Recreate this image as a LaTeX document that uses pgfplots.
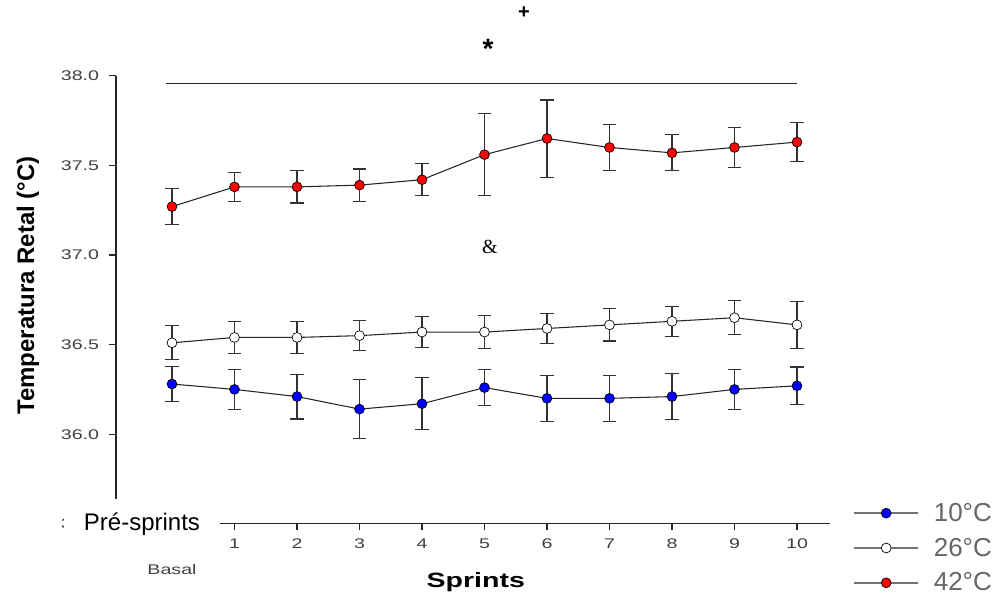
\documentclass[border=0pt]{standalone}
\usepackage{pgfplots}
\pgfplotsset{compat=1.18}
\usepackage{pgfplotstable}
\usepackage{fontspec}
\setmainfont{Liberation Sans}
\newfontfamily\serifnum{Liberation Serif}

\definecolor{tcol}{HTML}{404040}
\definecolor{barcol}{HTML}{333333}

% x  y  err
\pgfplotstableread{
x y e
0 36.28 0.10
1 36.25 0.11
2 36.21 0.125
3 36.14 0.165
4 36.17 0.145
5 36.26 0.10
6 36.20 0.13
7 36.20 0.13
8 36.21 0.13
9 36.25 0.11
10 36.27 0.105
}\tabTen
\pgfplotstableread{
x y e
0 36.51 0.095
1 36.54 0.09
2 36.54 0.09
3 36.55 0.085
4 36.57 0.085
5 36.57 0.09
6 36.59 0.085
7 36.61 0.09
8 36.63 0.085
9 36.65 0.095
10 36.61 0.13
}\tabTwentySix
\pgfplotstableread{
x y e
0 37.27 0.10
1 37.38 0.08
2 37.38 0.09
3 37.39 0.09
4 37.42 0.09
5 37.56 0.23
6 37.65 0.215
7 37.60 0.13
8 37.57 0.10
9 37.60 0.11
10 37.63 0.11
}\tabFortyTwo

\begin{document}
\begin{tikzpicture}
\begin{axis}[
    scale only axis,
    width=535.5pt, height=336pt,
    xmin=-0.896, xmax=10.528,
    ymin=35.5, ymax=38.0,
    clip=false,
    axis x line=bottom, axis y line=left,
    axis line style={-, black!85, line width=0.8pt},
    tick align=outside,
    major tick length=5pt,
    tick style={black!85, line width=0.8pt},
    xtick={0,1,...,10},
    xticklabels={,1,2,3,4,5,6,7,8,9,10},
    ytick={35.5,36.0,36.5,37.0,37.5,38.0},
    yticklabel style={/pgf/number format/fixed, /pgf/number format/fixed zerofill,
        /pgf/number format/precision=1, xshift=-2pt},
    /pgf/number format/assume math mode=true,
    ticklabel style={font=\fontsize{10.5}{12}\selectfont, text=tcol, xscale=1.4},
    xticklabel style={yshift=-3pt},
    every axis plot/.append style={black!85, line width=0.8pt},
    error bars/error bar style={barcol, line width=0.8pt},
    error bars/error mark options={rotate=90, mark size=4.9pt, barcol, line width=0.8pt},
    legend style={at={(axis cs:10.896,35.365)}, anchor=west, draw=none, fill=none,
        inner sep=0pt, row sep=7pt,
        font=\fontsize{19.5}{20}\selectfont, text=black!60,
        /tikz/every odd column/.append style={column sep=9pt}},
    legend cell align=left,
    legend image code/.code={
        \draw[mark repeat=2, mark phase=2, black!55, line width=1.4pt]
            plot coordinates {(0pt,0pt) (24pt,0pt) (48pt,0pt)};
    },
]
% bar over the top
\addplot[black!85, line width=0.8pt, forget plot] coordinates {(-0.1,37.955) (10,37.955)};

\addplot[mark=*, mark size=3.7pt, mark options={draw=black, fill=blue, line width=0.5pt},
    error bars/.cd, y dir=both, y explicit]
    table[x=x, y=y, y error=e] {\tabTen};
\addlegendentry{10°C}
\addplot[mark=*, mark size=3.7pt, mark options={draw=black, fill=white, line width=0.5pt},
    error bars/.cd, y dir=both, y explicit]
    table[x=x, y=y, y error=e] {\tabTwentySix};
\addlegendentry{26°C}
\addplot[mark=*, mark size=3.7pt, mark options={draw=black, fill=red, line width=0.5pt},
    error bars/.cd, y dir=both, y explicit]
    table[x=x, y=y, y error=e] {\tabFortyTwo};
\addlegendentry{42°C}

\node[font=\bfseries\fontsize{21}{21}\selectfont] at (axis cs:5.056,38.150) {*};
\node[font=\bfseries\fontsize{15}{15}\selectfont] at (axis cs:5.632,38.351) {+};
\node[font=\serifnum\fontsize{15}{15}\selectfont] at (axis cs:5.088,37.047) {\&};
\node[fill=white, minimum width=117pt, minimum height=37pt, inner sep=0pt,
    font=\fontsize{18}{18}\selectfont] at (axis cs:-0.48,35.5) {Pré-sprints};
\node[font=\fontsize{10.5}{12}\selectfont, text=tcol, xscale=1.4] at (axis cs:0,35.245) {Basal};
\node[font=\bfseries\fontsize{15.5}{16}\selectfont, xscale=1.38] at (axis cs:4.86,35.175) {Sprints};
\node[font=\bfseries\fontsize{18}{18}\selectfont, rotate=90] at (axis cs:-2.304,36.83) {Temperatura Retal (°C)};

\coordinate (bbtl) at (axis cs:-2.752,38.423);
\coordinate (bbbr) at (axis cs:13.2,35.070);
\end{axis}
\pgfresetboundingbox
\path[use as bounding box] (bbtl) rectangle (bbbr);
\end{tikzpicture}
\end{document}
